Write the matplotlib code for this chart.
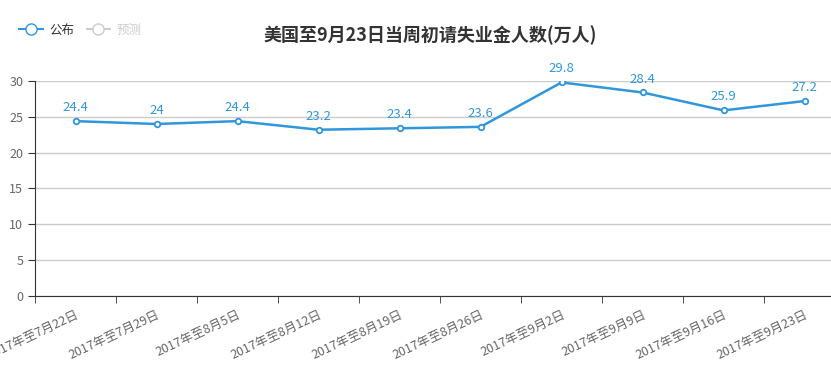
import matplotlib.pyplot as plt
from matplotlib.lines import Line2D

plt.rcParams['font.family'] = ['Noto Sans CJK SC', 'DejaVu Sans']

# 数据
categories = ['2017年至7月22日', '2017年至7月29日', '2017年至8月5日', '2017年至8月12日',
              '2017年至8月19日', '2017年至8月26日', '2017年至9月2日', '2017年至9月9日',
              '2017年至9月16日', '2017年至9月23日']
published = [24.4, 24, 24.4, 23.2, 23.4, 23.6, 29.8, 28.4, 25.9, 27.2]
yticks = [0, 5, 10, 15, 20, 25, 30]

blue = '#3097db'
W, H = 831, 388
fig = plt.figure(figsize=(W / 100, H / 100), dpi=100)
ax = fig.add_axes([35 / W, (H - 296) / H, 810 / W, 215 / H])

x = list(range(len(categories)))
ax.plot(x, published, color=blue, lw=1.8, marker='o', ms=4,
        markerfacecolor='white', markeredgecolor=blue, markeredgewidth=1.3, zorder=3)
for xi, v in zip(x, published):
    ax.annotate(f'{v:g}', (xi, v), xytext=(0, 5), textcoords='offset points',
                ha='center', va='bottom', color=blue, fontsize=9.5)

ax.set_xlim(-0.5, len(categories) - 0.5)
ax.set_ylim(0, 30)
ax.set_yticks(yticks)
ax.yaxis.grid(True, color='#cccccc', lw=1)
ax.set_axisbelow(True)

ax.set_xticks(x)
ax.set_xticklabels(categories, rotation=25, ha='right', rotation_mode='anchor',
                   color='#666666', fontsize=9)
ax.set_xticks([i - 0.5 for i in range(len(categories) + 1)], minor=True)
ax.tick_params(axis='x', which='major', length=0, pad=9)
ax.tick_params(axis='x', which='minor', length=5, color='#333333')
ax.tick_params(axis='y', length=5, color='#333333', labelcolor='#666666', labelsize=9)

for s in ['top', 'right']:
    ax.spines[s].set_visible(False)
ax.spines['left'].set_color('#333333')
ax.spines['bottom'].set_color('#333333')

fig.text(430 / W, 1 - 35 / H, '美国至9月23日当周初请失业金人数(万人)', ha='center', va='center',
         fontsize=13, fontweight='bold', color='#333333')

handles = [Line2D([], [], color=blue, marker='o', ms=8, markerfacecolor='white', lw=1.5),
           Line2D([], [], color='#cccccc', marker='o', ms=8, markerfacecolor='white', lw=1.5)]
leg = fig.legend(handles, ['公布', '预测'], loc='center left', bbox_to_anchor=(19 / W, 1 - 30 / H),
                 ncol=2, frameon=False, fontsize=9, handlelength=1.9, handletextpad=0.5,
                 columnspacing=1.0, borderaxespad=0, borderpad=0)
leg.get_texts()[0].set_color('#333333')
leg.get_texts()[1].set_color('#cccccc')

fig.savefig('out.png', dpi=100)
